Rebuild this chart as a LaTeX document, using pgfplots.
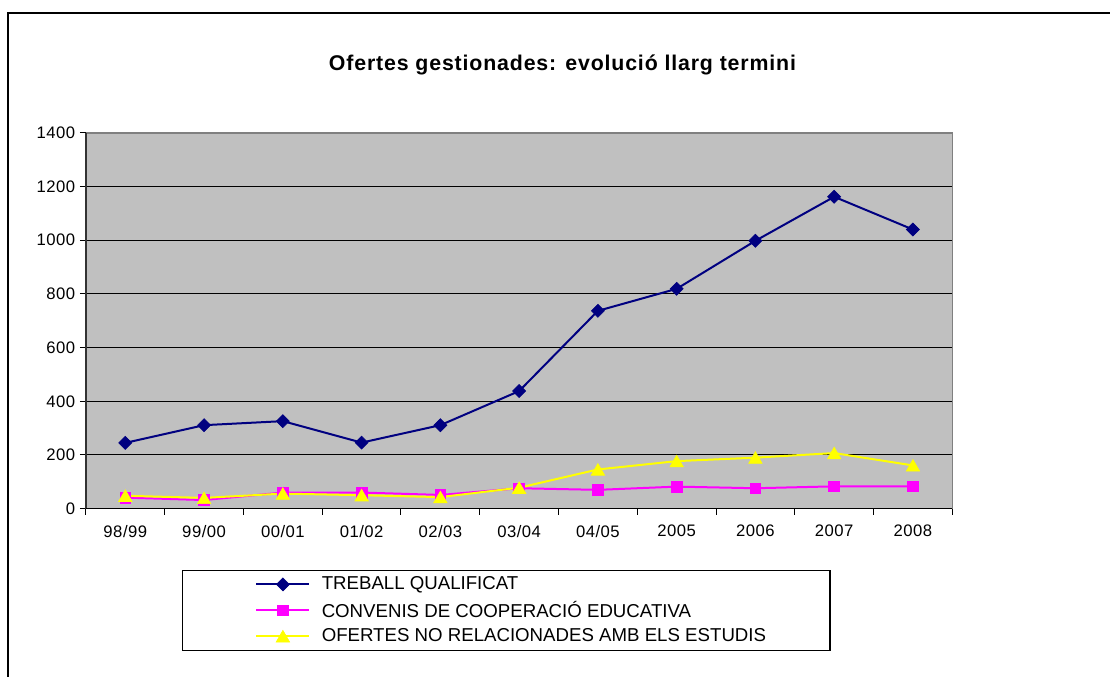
\documentclass[border=0pt]{standalone}
\usepackage{fontspec}
\setmainfont{Liberation Sans}
\usepackage{pgfplots}
\pgfplotsset{compat=1.18}
\definecolor{bggray}{HTML}{C0C0C0}
\definecolor{navyc}{HTML}{000080}
\definecolor{magc}{HTML}{FF00FF}
\definecolor{yelc}{HTML}{FFFF00}
\definecolor{bordergray}{HTML}{808080}
\begin{document}
\begin{tikzpicture}
\fill[white] (0pt,0pt) rectangle (833.25pt,507.75pt);
\draw[black, line width=1.2pt] (6pt,0pt) -- (6pt,498pt) -- (833.25pt,498pt);
\begin{axis}[
  at={(64.5pt,126pt)}, anchor=south west,
  scale only axis, width=650.25pt, height=282pt,
  xmin=-0.5, xmax=10.5, ymin=0, ymax=1400,
  ytick={0,200,...,1400},
  xtick={-0.5,0.5,...,10.5},
  xticklabels={},
  extra x ticks={0,1,2,3,4,5,6,7,8,9,10},
  extra x tick labels={98/99,99/00,00/01,01/02,02/03,03/04,04/05,2005,2006,2007,2008},
  extra x tick style={major tick length=0pt, xticklabel style={yshift=-9pt}},
  tick pos=left,
  tick align=outside,
  major tick length=4.5pt,
  tick style={black, line width=0.75pt},
  tick label style={font=\fontsize{12.5}{14}\selectfont\addfontfeatures{LetterSpace=3}},
  /pgf/number format/assume math mode=true,
  /pgf/number format/1000 sep={},
  ymajorgrids, major grid style={black, line width=0.75pt},
  axis line style={draw=none},
  axis background/.style={fill=bggray},
  title={Ofertes gestionades: evolució llarg termini},
  title style={at={(axis description cs:0.55,1.1436)}, anchor=base, font=\bfseries\fontsize{16}{19}\selectfont\addfontfeatures{LetterSpace=4}},
  legend style={at={(axis description cs:0.1107,-0.1622)}, anchor=north west,
    draw=black, line width=1pt, fill=white,
    inner xsep=48pt, inner ysep=3pt, row sep=3pt, column sep=8.5pt,
    font=\fontsize{14}{16}\selectfont,
    nodes={inner xsep=0pt, inner ysep=2pt}},
  legend cell align=left,
  legend image code/.code={\path (0pt,0pt); \draw[mark repeat=2,mark phase=2,#1] plot coordinates {(6.75pt,0pt) (26.6pt,0pt) (46.5pt,0pt)};},
  after end axis/.code={
    \draw[bordergray, line width=1.1pt] (rel axis cs:0,1) -- (rel axis cs:1,1) -- (rel axis cs:1,0);
    \draw[black!80, line width=1.1pt] (rel axis cs:0,1) -- (rel axis cs:0,0);
    \draw[black, line width=1pt] (rel axis cs:0,0) -- (rel axis cs:1,0);
  },
]
\addplot[color=navyc, line width=1.5pt, mark=square*, mark size=3.45pt, mark options={rotate=45, fill=navyc, line width=0.5pt}] coordinates {
(0,245) (1,311) (2,326) (3,246) (4,311) (5,438) (6,737) (7,819) (8,998) (9,1162) (10,1040)};
\addlegendentry{TREBALL QUALIFICAT}
\addplot[color=magc, line width=1.5pt, mark=square*, mark size=4.05pt, mark options={fill=magc, line width=0.5pt}] coordinates {
(0,41) (1,32) (2,60) (3,60) (4,51) (5,76) (6,70) (7,82) (8,76) (9,83) (10,83)};
\addlegendentry{CONVENIS DE COOPERACIÓ EDUCATIVA}
\addplot[color=yelc, line width=1.5pt, mark=triangle*, mark size=5.8pt, mark options={fill=yelc, line width=0.5pt, yshift=-1.4pt}] coordinates {
(0,48) (1,40) (2,56) (3,50) (4,43) (5,78) (6,146) (7,177) (8,190) (9,207) (10,161)};
\addlegendentry{OFERTES NO RELACIONADES AMB ELS ESTUDIS}
\end{axis}
\end{tikzpicture}
\end{document}
